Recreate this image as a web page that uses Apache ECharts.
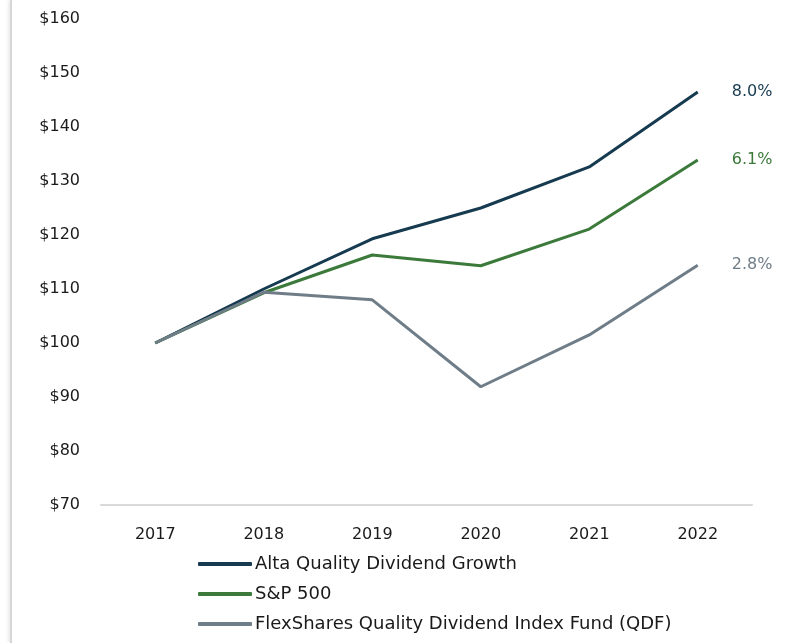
<!DOCTYPE html>
<html>
<head>
<meta charset="utf-8">
<script src="https://cdn.jsdelivr.net/npm/echarts@6/dist/echarts.min.js"></script>
<style>
  html, body { margin: 0; padding: 0; background: #fff; }
  .box { position: relative; width: 796px; height: 643px; }
  .card {
    position: absolute; left: 10px; top: 0; width: 784px; height: 643px;
    border-left: 2px solid #d6d6d6; border-right: 1px solid #dcdcdc;
    box-shadow: -2px 0 3px rgba(0,0,0,0.08);
  }
  #chart { position: absolute; left: 0; top: 0; width: 796px; height: 643px; }
</style>
</head>
<body>
<div class="box">
  <div class="card"></div>
  <div id="chart"></div>
</div>
<script>
// categories and values
var years = ['2017', '2018', '2019', '2020', '2021', '2022']
var altaName = 'Alta Quality Dividend Growth'
var altaValues = [100, 110, 119.3, 125, 132.6, 146.5]
var spName = 'S&P 500'
var spValues = [100, 109.3, 116.3, 114.3, 121.1, 133.9]
var qdfName = 'FlexShares Quality Dividend Index Fund (QDF)'
var qdfValues = [100, 109.4, 108, 91.9, 101.5, 114.4]
var endLabels = ['8.0%', '6.1%', '2.8%']

var font = 'DejaVu Sans'
var colors = ['#163a50', '#3b7a3a', '#6f7d88']

function lineSeries(name, values, idx) {
    return {
        type: 'line',
        name: name,
        data: values,
        symbol: 'none',
        lineStyle: { width: 3, color: colors[idx] },
        itemStyle: { color: colors[idx] },
        endLabel: {
            show: true,
            distance: 34,
            color: colors[idx],
            fontFamily: font,
            fontSize: 16,
            formatter: function () { return endLabels[idx] }
        }
    }
}

var myChart = echarts.init(document.getElementById('chart'))
var options = {
    animation: false,
    color: colors,
    grid: { left: 101, right: 44, top: 19, bottom: 138, containLabel: false },
    legend: {
        orient: 'vertical',
        left: 193,
        top: 550,
        itemWidth: 54,
        itemHeight: 4,
        itemGap: 12,
        icon: 'roundRect',
        textStyle: { color: '#1a1a1a', fontFamily: font, fontSize: 18, lineHeight: 18, padding: [0, 0, 0, -2] },
        data: [altaName, spName, qdfName]
    },
    xAxis: {
        type: 'category',
        data: years,
        boundaryGap: true,
        axisLine: { show: true, lineStyle: { color: '#d9d9d9', width: 2 } },
        axisTick: { show: false },
        axisLabel: { color: '#1a1a1a', fontFamily: font, fontSize: 16, margin: 22 }
    },
    yAxis: {
        type: 'value',
        min: 70,
        max: 160,
        interval: 10,
        axisLine: { show: false },
        axisTick: { show: false },
        splitLine: { show: false },
        axisLabel: {
            color: '#1a1a1a', fontFamily: font, fontSize: 16, margin: 21,
            formatter: function (v) { return '$' + v }
        }
    },
    series: [
        lineSeries(altaName, altaValues, 0),
        lineSeries(spName, spValues, 1),
        lineSeries(qdfName, qdfValues, 2)
    ]
}
myChart.setOption(options)
</script>
</body>
</html>
